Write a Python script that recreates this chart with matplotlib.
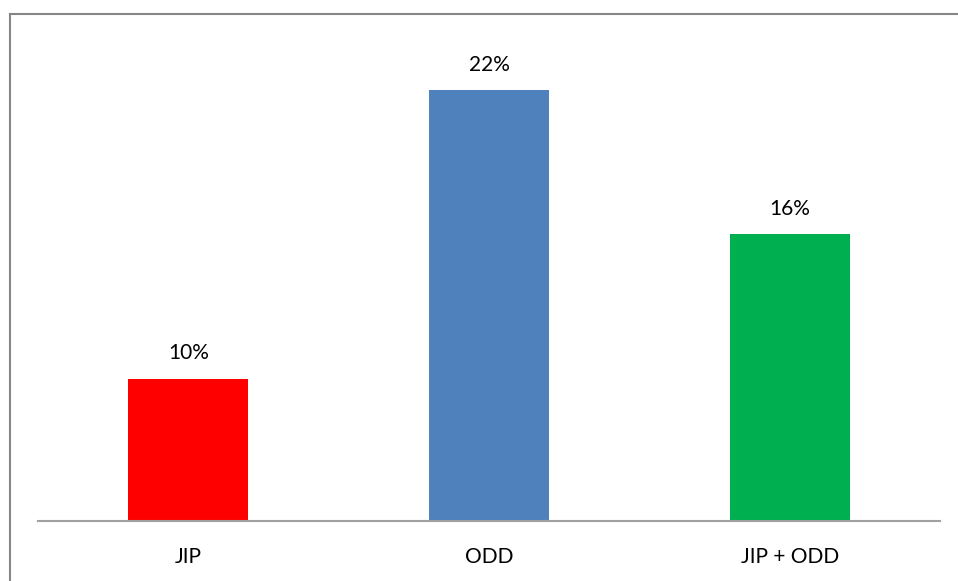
'''
Bar chart of JIP / ODD shares
'''
import matplotlib.pyplot as plt
from matplotlib.lines import Line2D

categories = ['JIP', 'ODD', 'JIP + ODD']
values = [10, 22, 16]
labels = ['10%', '22%', '16%']
colors = ['#ff0000', '#4f81bd', '#00b050']

plt.rcParams['font.family'] = ['Lato', 'DejaVu Sans']

fig = plt.figure(figsize=(9.58, 5.81), dpi=100)
W, H = 958, 581
ax = fig.add_axes([38 / W, (H - 521) / H, (940 - 38) / W, (521 - 13) / H])

x = range(len(categories))
ax.bar(x, values, width=0.4, color=colors, zorder=2)
for i, v in enumerate(values):
    ax.annotate(labels[i], (i, v), xytext=(0, 11), textcoords='offset points',
                ha='center', va='bottom', fontsize=15, color='black')

ax.set_xlim(-0.5, 2.5)
ax.set_ylim(4.08, 25.2)
ax.set_xticks(list(x))
ax.set_xticklabels(categories, fontsize=15)
ax.tick_params(axis='x', length=0, pad=19)
ax.set_yticks([])
for s in ['top', 'right', 'left']:
    ax.spines[s].set_visible(False)
ax.spines['bottom'].set_color('#a0a0a0')
ax.spines['bottom'].set_linewidth(1.5)

# outer frame, only left and top visible
fig.add_artist(Line2D([9.5 / W, 9.5 / W], [0, 1 - 13.5 / H], transform=fig.transFigure,
                      color='#868686', linewidth=1.5))
fig.add_artist(Line2D([9.5 / W, 1], [1 - 13.5 / H, 1 - 13.5 / H], transform=fig.transFigure,
                      color='#868686', linewidth=1.5))

fig.savefig('out.png', dpi=100)
